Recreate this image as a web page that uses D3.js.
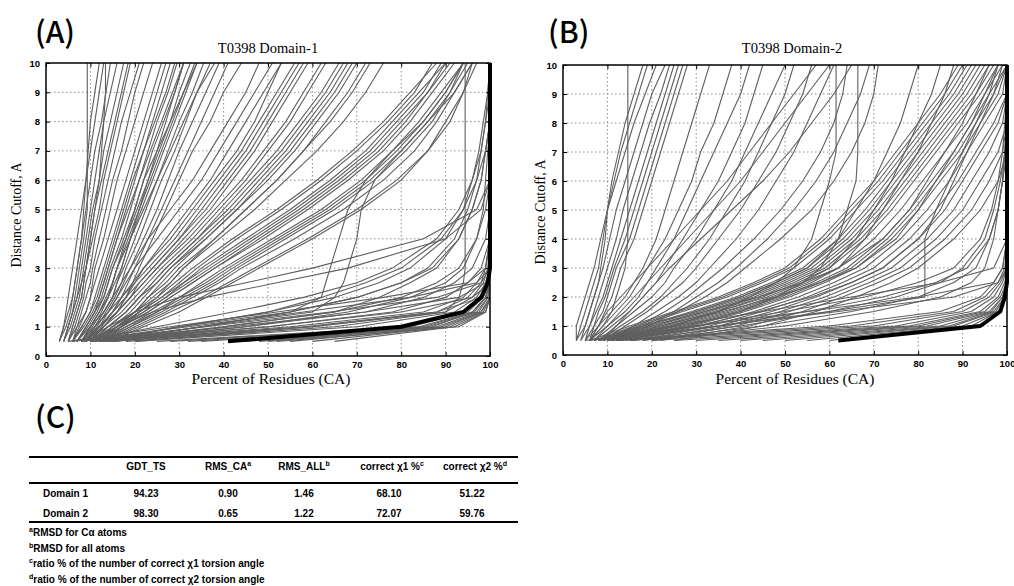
<!DOCTYPE html>
<html>
<head>
<meta charset="utf-8">
<script src="https://d3js.org/d3.v7.min.js"></script>
<style>
  body { margin: 0; background: #fff; }
  .tick text { font-family: 'Liberation Sans', Arial, sans-serif; font-size: 9.5px; font-weight: bold; fill: #000; }
  .serif { font-family: 'Liberation Serif', 'Times New Roman', serif; fill: #000; }
  .tbl { font-family: 'Liberation Sans', Arial, sans-serif; font-size: 10px; font-weight: bold; fill: #000; }
  .tag { font-family: 'Noto Sans CJK JP', 'DejaVu Sans', sans-serif; font-size: 30px; font-weight: 500; fill: #000; }
</style>
</head>
<body>
<div id="chart"></div>
<script>
// distance cutoffs (A) at which each model's % of residues is read
const cutoffs = [0.5, 1, 1.5, 2, 2.5, 3, 4, 5, 6, 7, 8, 9, 10];
const xTicks = [0, 10, 20, 30, 40, 50, 60, 70, 80, 90, 100];
const yTicks = [0, 1, 2, 3, 4, 5, 6, 7, 8, 9, 10];

// T0398 Domain-1 : best model (thick) and all other models (% residues at each cutoff)
const domain1Best = [41, 80, 94, 98, 99.5, 100, 100, 100, 100, 100, 100, 100, 100];
const domain1Models = [
  [3,4,4.5,5,5.5,6,7,8,9,10,11,12,13],
  [3,4.5,5.5,6,6.5,7,8,9,10,11,12.5,13.5,14.5],
  [4,5,6,7,7.5,8,9,10,11,12,13,14.5,16],
  [4,5.5,6.5,7.5,8,8.5,9.5,10.5,12,13,14.5,16,17.5],
  [5,6,7,8,8.5,9,10.5,12,13,14.5,16,17.5,19],
  [5,6.5,7.5,8.5,9,10,11,12.5,14,15.5,17,19,21],
  [6,7,8,9,10,10.5,12,13.5,15,17,18.5,20,22],
  [6,7.5,9,10,10.5,11,13,14.5,16,18,20,22,24],
  [3,4,5,6,6.5,7,8,8.5,9,9.5,10,11,12],
  [4,5,6,7,8,9,10,11,12.5,14,15.5,17,18.5],
  [4,5,6,6.5,7,7.5,8.5,9.3,9.3,9.3,9.3,9.3,9.3],
  [5,6,7,8,8.5,9,10,11,12,12.5,13,13.4,13.4],
  [5,7,9,10,11,12,14,16,18,20,22,24,26],
  [6,8,10,11.5,12.5,13.5,15.5,17.5,19.5,22,24.5,27,29],
  [7,9,11,12,13,14,16,18.5,21,23.5,26,28.5,31],
  [8,10,12,14,15,16,18,20,22,25,28,31,34],
  [9,11,13,15,16,17,19,22,25,28,31,34,38],
  [10,13,16,18,19.5,21,24,27,30,33,37,40,44],
  [6,8,10,11,12,13,15,17,19,21,23,25,27],
  [6,8.5,10.5,12,13,14,16,18,20,22,24,26,28],
  [7,9,11,12.5,13.5,14.5,17,19,21,23,25,27.5,29.5],
  [7,9.5,11.5,13,14,15,17.5,20,22,24,26.5,29,31],
  [8,10,12,13.5,15,16,18.5,21,23,25.5,28,30,32.5],
  [8,10.5,12.5,14,15.5,17,19,21.5,24,26.5,29,31.5,34],
  [9,11,13,15,16,17.5,20,22.5,25,27.5,30,33,35.5],
  [9,11.5,13.5,15.5,17,18,21,23.5,26,29,31.5,34,37],
  [10,12,14,16,17.5,19,22,25,27.5,30,33,36,39],
  [10,12.5,15,17,18.5,20,23,26,29,32,35,38,41],
  [7,9,11,13,14,15,18,20.5,23,25,27,29,31],
  [8,10,12,14,15,16,19,21,23.5,26,28.5,31,33.5],
  [7,10,13,15,17,19,23,28,33,37,41,45,48],
  [8,11,14,16,18,20,25,30,35,39,43,47,51],
  [8,12,15,17,19.5,22,27,32,37,41,45,49,53],
  [9,12,15,18,20,23,29,34,39,44,48,52,56],
  [9,13,16,19,22,25,31,37,42,47,51,55,59],
  [10,13,17,20,23,26,33,39,45,50,55,59,63],
  [10,14,18,21,24,27,34,41,47,53,58,63,67],
  [11,15,19,22,25,28,36,43,50,56,61,66,70],
  [11,15,20,23,27,30,38,45,52,58,64,69,73],
  [12,16,20,24,28,31,39,47,54,61,67,72,76],
  [9,12,16,19,21,24,30,36,41,46,50,54,58],
  [10,14,18,21,25,28,35,42,48,54,59,64,68],
  [8,11,14,17,20,22,28,33,38,43,47,50,53],
  [9,12,15,18,21,24,30,35,40,45,49,53,57],
  [10,13,16,19,22,25,32,38,44,49,54,58,62],
  [11,14,18,21,24,27,34,40,46,52,57,62,66],
  [12,16,20,23,26,29,36,43,49,55,60,65,69],
  [13,17,21,25,28,31,38,45,52,58,63,68,72],
  [10,15,20,25,29,33,42,52,61,69,76,82,88],
  [10,16,21,26,31,35,45,55,64,72,78,84,90],
  [11,17,22,27,32,37,47,57,66,74,80,86,91],
  [11,17,23,28,33,38,49,59,68,76,82,87,92],
  [12,18,24,30,35,40,51,62,71,78,84,89,94],
  [12,19,25,31,37,42,53,64,73,80,86,91,95],
  [13,20,27,33,39,44,56,67,76,83,88,92,96],
  [13,21,28,35,41,47,59,70,79,86,90,94,97],
  [11,16,22,27,31,36,46,56,65,73,79,85,89],
  [12,18,25,30,36,41,52,63,72,79,85,90,94],
  [11,16,21,26,30,34,43,53,62,70,77,83,87],
  [12,17,23,28,33,38,48,58,67,75,81,86,90],
  [13,19,26,32,38,43,54,65,74,81,87,91,94],
  [14,22,30,36,42,48,60,71,80,86,91,94,96],
  [12,30,55,62,63,64,66,68,72,78,85,90,94],
  [12,35,60,65,67,68,70,71,74,80,86,92,96],
  [20,60,90,93,94,94.4,94.4,94.4,94.4,94.4,94.4,94.4,94.4],
  [15,40,65,75,82,88,93,96,98,99,100,100,100],
  [14,35,55,70,80,87,93,96,98,99,100,100,100],
  [13,30,50,62,72,80,89,94,97,99,100,100,100],
  [10,30,50,65,75,82,90,94,96,97.5,98.5,99.5,100],
  [12,35,55,70,80,86,92,95,97,98,99,99.5,100],
  [8,25,42,58,70,78,88,93,96,98,99,100,100],
  [15,45,68,82,90,94,97,98.5,99,99.5,100,100,100],
  [5,28,52,76,95,99,100,100,100,100,100,100,100],
  [6,32,58,82,97,100,100,100,100,100,100,100,100],
  [8,36,64,88,98,100,100,100,100,100,100,100,100],
  [10,42,72,93,99,100,100,100,100,100,100,100,100],
  [12,50,80,96,100,100,100,100,100,100,100,100,100],
  [14,58,88,98,100,100,100,100,100,100,100,100,100],
  [8,14,20,30,45,60,85,97,100,100,100,100,100],
  [9,16,24,36,52,68,90,98,100,100,100,100,100],
  [10,40,65,80,88,93,97,99,100,100,100,100,100],
  [11,45,72,85,92,96,99,100,100,100,100,100,100],
  [12,50,78,90,95,98,100,100,100,100,100,100,100],
  [13,55,85,94,97,99,100,100,100,100,100,100,100],
  [15,60,88,95,98,99,100,100,100,100,100,100,100],
  [18,65,90,96,98.5,99.5,100,100,100,100,100,100,100],
  [20,70,92,97,99,100,100,100,100,100,100,100,100],
  [25,82,95,98.5,100,100,100,100,100,100,100,100,100],
  [28,84,96,99,100,100,100,100,100,100,100,100,100],
  [32,85,96.5,99,100,100,100,100,100,100,100,100,100],
  [35,86,97,99.5,100,100,100,100,100,100,100,100,100],
  [45,88,97.5,99.5,100,100,100,100,100,100,100,100,100],
  [48,87,96,99,100,100,100,100,100,100,100,100,100],
  [50,89,98,100,100,100,100,100,100,100,100,100,100],
  [52,93,99,100,100,100,100,100,100,100,100,100,100],
  [55,90,98,100,100,100,100,100,100,100,100,100,100],
  [60,91,98.5,100,100,100,100,100,100,100,100,100,100],
  [65,92,99,100,100,100,100,100,100,100,100,100,100]
];

// T0398 Domain-2
const domain2Best = [62, 94, 98.5, 99.5, 100, 100, 100, 100, 100, 100, 100, 100, 100];
const domain2Models = [
  [3,3,4,5,6,7,8.5,10,11.5,13,15,17,19],
  [3,4,5,6,7,8,9,10,12,14,16,18.5,21],
  [4,5,6,7,8,9,10.5,12,14,16,18,20,23],
  [4,6,7,8,9,10,12,13.5,15.5,17.5,19.5,22,24],
  [5,6,7.5,9,10,11,13,15,17,19,21,23,25],
  [5,7,8,9.5,10.5,11.5,14,16,18,20,22,24,26],
  [6,7,9,10,11,12,15,17,19,21,23,25,27],
  [6,8,9.5,11,12,13,16,18,20,22,24,26,28],
  [3,5,6,7,8,8.5,9.5,10,11,12.5,14,16,18],
  [6,9,11,12,13,14,14.6,14.6,14.6,14.6,14.6,14.6,14.6],
  [5,8,11,14,16,18,21,23,25,27,29,31,33],
  [6,9,12,15,17,19,23,26,29,31,34,36,38],
  [6,10,14,17,19,21,25,28,31,34,37,40,42],
  [7,11,15,18,21,23,27,31,35,38,41,43,45],
  [8,12,16,20,23,25,30,34,38,41,44,47,50],
  [8,13,18,22,25,28,33,37,41,44,47,50,52],
  [9,14,19,23,27,30,35,40,44,48,51,54,56],
  [10,16,21,26,30,33,39,44,48,52,55,58,61],
  [10,17,23,28,32,36,43,49,54,58,61,63,64],
  [11,18,25,30,35,39,46,52,57,61,64,67,69],
  [12,19,26,32,37,41,49,56,61,65,68,70,71],
  [6,8,10,13,16,19,25,31,37,42,47,52,57],
  [7,10,13,16,19,22,28,34,40,45,50,55,60],
  [9,12,15,18,21,24,31,38,45,51,56,61,65],
  [12,25,35,42,48,52,56,58,60,61.5,61.5,61.5,61.5],
  [14,28,40,48,54,58,62,64,66,66.4,66.4,66.4,66.4],
  [6,15,25,35,43,50,58,64,70,75,80,85,89],
  [7,16,26,36,44,51,59,65,71,76,81,86,90],
  [7,17,27,37,45,52,60,66,72,77,82,87,91],
  [8,18,29,39,47,54,62,68,73,78,83,88,92],
  [8,19,30,40,48,55,63,69,74,79,84,89,93],
  [9,20,31,41,49,56,64,70,75,80,85,90,94],
  [9,21,32,42,50,57,65,71,76,81,86,91,95],
  [10,22,33,43,51,58,66,72,77,82,87,92,96],
  [10,23,34,44,52,59,67,73,78,83,88,93,97],
  [11,24,35,45,53,60,68,74,79,84,89,94,98],
  [11,25,37,47,55,62,70,76,81,86,91,95,99],
  [12,27,39,49,57,64,72,78,83,88,92,96,100],
  [12,28,40,50,58,65,73,79,84,89,93,97,100],
  [13,29,41,51,59,66,74,80,85,90,94,98,100],
  [14,31,43,53,61,68,76,82,87,91,95,99,100],
  [15,33,45,55,63,70,78,84,89,93,97,100,100],
  [16,35,47,57,65,72,80,86,90,94,98,100,100],
  [18,37,49,59,67,74,82,88,92,96,99,100,100],
  [20,39,51,61,69,76,84,90,94,98,100,100,100],
  [22,42,54,63,71,78,86,92,96,99,100,100,100],
  [25,45,57,66,74,80,88,94,98,100,100,100,100],
  [8,20,32,44,54,62,72,78,82,86,90,93,96],
  [10,24,36,48,58,66,75,80,84,88,92,95,98],
  [13,30,44,56,65,72,80,85,88,91,94,97,99],
  [7,18,30,40,48,55,62,66,70,73,76,78,80],
  [9,22,35,46,54,60,66,70,74,77,80,83,85],
  [11,26,38,48,56,62,68,72,76,80,83,86,88],
  [10,60,85,94,97,99,100,100,100,100,100,100,100],
  [12,65,88,95,98,99.5,100,100,100,100,100,100,100],
  [15,70,90,96,98.5,100,100,100,100,100,100,100,100],
  [20,75,92,97,99,100,100,100,100,100,100,100,100],
  [25,78,94,98,99.5,100,100,100,100,100,100,100,100],
  [30,80,95,98.5,100,100,100,100,100,100,100,100,100],
  [35,82,96,99,100,100,100,100,100,100,100,100,100],
  [40,85,96.5,99,100,100,100,100,100,100,100,100,100],
  [45,87,97,99.5,100,100,100,100,100,100,100,100,100],
  [50,88,97.5,99.5,100,100,100,100,100,100,100,100,100],
  [55,90,98,100,100,100,100,100,100,100,100,100,100],
  [60,92,98,100,100,100,100,100,100,100,100,100,100],
  [20,50,70,85,92,95,97,98,99,99.5,100,100,100],
  [15,40,60,75,85,90,95,97,98.5,99.5,100,100,100],
  [18,45,65,80,88,93,96,98,99,100,100,100,100],
  [10,30,50,68,80,88,94,96.5,98,99,99.5,100,100],
  [12,35,55,72,84,91,96,98,99,99.5,100,100,100],
  [12,35,60,81.5,81.5,81.5,81.5,84,87,90,93,96,98],
  [5,30,55,80,97,99,100,100,100,100,100,100,100],
  [6,25,45,65,85,97,100,100,100,100,100,100,100],
  [8,35,62,88,98,100,100,100,100,100,100,100,100]
];

// table (C)
const tableHeaders = ["", "GDT_TS", "RMS_CA", "RMS_ALL", "correct \u03c71 %", "correct \u03c72 %"];
const headerNotes = ["", "", "a", "b", "c", "d"];
const tableRows = [
  ["Domain 1", "94.23", "0.90", "1.46", "68.10", "51.22"],
  ["Domain 2", "98.30", "0.65", "1.22", "72.07", "59.76"]
];
const footnotes = [
  ["a", "RMSD for C\u03b1 atoms"],
  ["b", "RMSD for all atoms"],
  ["c", "ratio % of the number of correct \u03c71 torsion angle"],
  ["d", "ratio % of the number of correct \u03c72 torsion angle"]
];

const width = 1014, height = 586;
const svg = d3.select("#chart").append("svg")
  .attr("width", width).attr("height", height);

const panels = [
  { id: "a", tag: "(A)", tagX: 35, title: "T0398 Domain-1", models: domain1Models, best: domain1Best,
    left: 46, right: 490, top: 63, bottom: 356, titleX: 268, ylabX: 21, ylabY: 215 },
  { id: "b", tag: "(B)", tagX: 548, title: "T0398 Domain-2", models: domain2Models, best: domain2Best,
    left: 563, right: 1007, top: 65, bottom: 355, titleX: 792, ylabX: 545, ylabY: 212 }
];

panels.forEach(p => {
  const x = d3.scaleLinear().domain([0, 100]).range([p.left, p.right]);
  const y = d3.scaleLinear().domain([0, 10]).range([p.bottom, p.top]);
  const g = svg.append("g");

  svg.append("clipPath").attr("id", "clip-" + p.id)
    .append("rect")
      .attr("x", p.left).attr("y", p.top)
      .attr("width", p.right - p.left).attr("height", p.bottom - p.top);

  // dotted grid
  g.append("g").selectAll("line").data(xTicks.slice(1, -1)).join("line")
    .attr("x1", d => x(d)).attr("x2", d => x(d))
    .attr("y1", p.top).attr("y2", p.bottom)
    .attr("stroke", "#8c8c8c").attr("stroke-dasharray", "1.5,2.5");
  g.append("g").selectAll("line").data(yTicks.slice(1, -1)).join("line")
    .attr("y1", d => y(d)).attr("y2", d => y(d))
    .attr("x1", p.left).attr("x2", p.right)
    .attr("stroke", "#8c8c8c").attr("stroke-dasharray", "1.5,2.5");

  const line = d3.line().x(d => x(d[0])).y(d => y(d[1]));
  const plot = g.append("g").attr("clip-path", `url(#clip-${p.id})`);
  plot.selectAll("path.model").data(p.models).join("path")
    .attr("class", "model")
    .attr("d", row => line(row.map((v, i) => [v, cutoffs[i]])))
    .attr("fill", "none").attr("stroke", "#5f5f5f").attr("stroke-width", 1.1);

  g.append("path")
    .attr("d", line(p.best.map((v, i) => [v, cutoffs[i]])))
    .attr("fill", "none").attr("stroke", "#000").attr("stroke-width", 4)
    .attr("stroke-linejoin", "round");

  // axes with inward ticks
  g.append("g").attr("transform", `translate(0,${p.bottom})`)
    .call(d3.axisBottom(x).tickValues(xTicks).tickSizeInner(-4).tickSizeOuter(0).tickPadding(5))
    .call(a => a.select(".domain").remove());
  g.append("g").attr("transform", `translate(${p.left},0)`)
    .call(d3.axisLeft(y).tickValues(yTicks).tickSizeInner(-4).tickSizeOuter(0).tickPadding(6))
    .call(a => a.select(".domain").remove());
  g.append("g").attr("transform", `translate(0,${p.top})`)
    .call(d3.axisTop(x).tickValues(xTicks).tickSizeInner(-4).tickSizeOuter(0).tickFormat(""))
    .call(a => a.select(".domain").remove());
  g.append("g").attr("transform", `translate(${p.right},0)`)
    .call(d3.axisRight(y).tickValues(yTicks).tickSizeInner(-4).tickSizeOuter(0).tickFormat(""))
    .call(a => a.select(".domain").remove());

  g.append("rect")
    .attr("x", p.left).attr("y", p.top)
    .attr("width", p.right - p.left).attr("height", p.bottom - p.top)
    .attr("fill", "none").attr("stroke", "#000").attr("stroke-width", 1.5);

  // labels
  svg.append("text").attr("class", "tag").attr("x", p.tagX).attr("y", 43).text(p.tag);
  svg.append("text").attr("class", "serif").attr("x", p.titleX).attr("y", 53)
    .attr("text-anchor", "middle").style("font-size", "14.5px").text(p.title);
  svg.append("text").attr("class", "serif").attr("x", p.titleX + 3).attr("y", 384)
    .attr("text-anchor", "middle").style("font-size", "15.5px").text("Percent of Residues (CA)");
  svg.append("text").attr("class", "serif")
    .attr("transform", `translate(${p.ylabX},${p.ylabY}) rotate(-90)`)
    .attr("text-anchor", "middle").style("font-size", "14px").text("Distance Cutoff, A");
});

// (C) table
svg.append("text").attr("class", "tag").attr("x", 35).attr("y", 428).text("(C)");

const tblLeft = 29, tblRight = 518;
const colX = [43, 146, 228, 304, 392, 475];
[[457, 2], [483, 2], [522, 2]].forEach(([yy, w]) => {
  svg.append("line").attr("x1", tblLeft).attr("x2", tblRight)
    .attr("y1", yy).attr("y2", yy).attr("stroke", "#000").attr("stroke-width", w);
});

tableHeaders.forEach((h, i) => {
  if (!h) return;
  const t = svg.append("text").attr("class", "tbl")
    .attr("x", colX[i]).attr("y", 470).attr("text-anchor", "middle");
  t.append("tspan").text(h);
  if (headerNotes[i]) t.append("tspan").attr("dy", -4).style("font-size", "7px").text(headerNotes[i]);
});

tableRows.forEach((row, r) => {
  row.forEach((v, i) => {
    svg.append("text").attr("class", "tbl")
      .attr("x", i === 0 ? colX[0] : colX[i] - (i >= 4 ? 3 : 0))
      .attr("y", 497 + r * 19.5)
      .attr("text-anchor", i === 0 ? "start" : "middle")
      .text(v);
  });
});

footnotes.forEach(([s, txt], i) => {
  const t = svg.append("text").attr("class", "tbl").attr("x", 29).attr("y", 536 + i * 15.5);
  t.append("tspan").attr("dy", -4).style("font-size", "7px").text(s);
  t.append("tspan").attr("dy", 4).text(txt);
});
</script>
</body>
</html>
